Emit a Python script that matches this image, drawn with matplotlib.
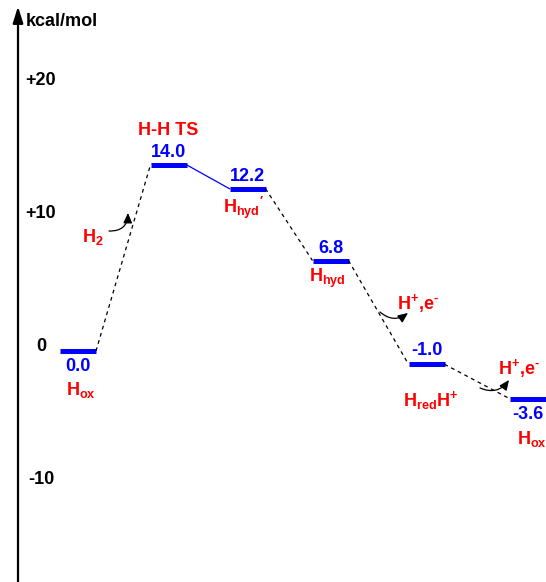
import matplotlib.pyplot as plt

# fonts: Arial-like bold everywhere, mathtext for sub/superscripts
plt.rcParams['font.family'] = ['Liberation Sans', 'DejaVu Sans']
plt.rcParams['font.weight'] = 'bold'
plt.rcParams['mathtext.fontset'] = 'custom'
plt.rcParams['mathtext.rm'] = 'Liberation Sans:bold'
plt.rcParams['mathtext.bf'] = 'Liberation Sans:bold'
plt.rcParams['mathtext.it'] = 'Liberation Sans:bold'

# energy levels (kcal/mol)
energies = [0.0, 14.0, 12.2, 6.8, -1.0, -3.6]
value_labels = ['0.0', '14.0', '12.2', '6.8', '-1.0', '-3.6']
state_names = [r'$\mathrm{H_{ox}}$', 'H-H TS', r'$\mathrm{H_{hyd}{}^{\prime}}$',
               r'$\mathrm{H_{hyd}}$', r'$\mathrm{H_{red}H^{+}}$', r'$\mathrm{H_{ox}}$']
tick_values = [20, 10, 0, -10]
tick_labels = ['+20', '+10', '0', '-10']
proton_electron = r'$\mathrm{H^{+}{,}e^{\text{-}}}$'

# horizontal placement of each state
stage_x = [78, 168.5, 247.5, 330.5, 426.5, 528]
half_w = 18

blue = '#0000ff'
red = '#ff0000'

fig = plt.figure(figsize=(5.46, 5.82), dpi=100)
ax = fig.add_axes([0, 0, 1, 1])
ax.set_xlim(0, 546)
ax.set_ylim(-17.37, 26.39)
ax.axis('off')

# vertical energy axis with arrow
ax.annotate('', xy=(18, 25.9), xytext=(18, -17.5),
            arrowprops=dict(arrowstyle='-|>,head_length=0.7,head_width=0.22',
                            lw=1.6, color='black', mutation_scale=14,
                            shrinkA=0, shrinkB=0))
ax.text(26, 24.8, 'kcal/mol', fontsize=13, ha='left', va='center')
for v, lab in zip(tick_values, tick_labels):
    ax.text(41, v, lab, fontsize=13, ha='center', va='baseline')

# levels
for x, e in zip(stage_x, energies):
    ax.plot([x - half_w, x + half_w], [e, e], color=blue, lw=3.6,
            solid_capstyle='butt')

# connectors between levels
link_styles = ['dashed', 'solid', 'dashed', 'dashed', 'dashed']
link_colors = ['black', blue, 'black', 'black', 'black']
for i in range(len(energies) - 1):
    ax.plot([stage_x[i] + half_w, stage_x[i + 1] - half_w],
            [energies[i], energies[i + 1]],
            color=link_colors[i], lw=0.9,
            linestyle=(0, (3, 3)) if link_styles[i] == 'dashed' else '-')

# value labels above or below each level (offset in points)
value_dy = [-11.5, 8.6, 9, 8.6, 10, -11.5]
for x, e, lab, dy in zip(stage_x, energies, value_labels, value_dy):
    ax.annotate(lab, (x, e), xytext=(0, dy), textcoords='offset points',
                ha='center', va='center', color=blue, fontsize=13)

# state names
name_dx = [2, 0, -3, -2, 3, 3]
name_dy = [-28, 25, -14, -13, -26, -29]
for x, e, lab, dx, dy in zip(stage_x, energies, state_names, name_dx, name_dy):
    ax.annotate(lab, (x, e), xytext=(dx, dy), textcoords='offset points',
                ha='center', va='center', color=red, fontsize=13)

# incoming species with curved arrows
ax.text(93, 8.6, r'$\mathrm{H_{2}}$', color=red, fontsize=13, ha='center', va='center')
ax.text(418, 3.6, proton_electron, color=red, fontsize=13, ha='center', va='center')
ax.text(519, -1.3, proton_electron, color=red, fontsize=13, ha='center', va='center')

curl = [((109, 9.02), (128, 10.38), 0.5),
        ((380, 2.93), (408, 2.86), 0.4),
        ((480, -2.78), (509, -2.18), 0.4)]
for start, end, rad in curl:
    ax.annotate('', xy=end, xytext=start,
                arrowprops=dict(arrowstyle='-|>,head_length=0.5,head_width=0.22',
                                connectionstyle=f'arc3,rad={rad}',
                                lw=0.9, color='black', mutation_scale=12,
                                shrinkA=0, shrinkB=0))

fig.savefig('out.png', dpi=100)
